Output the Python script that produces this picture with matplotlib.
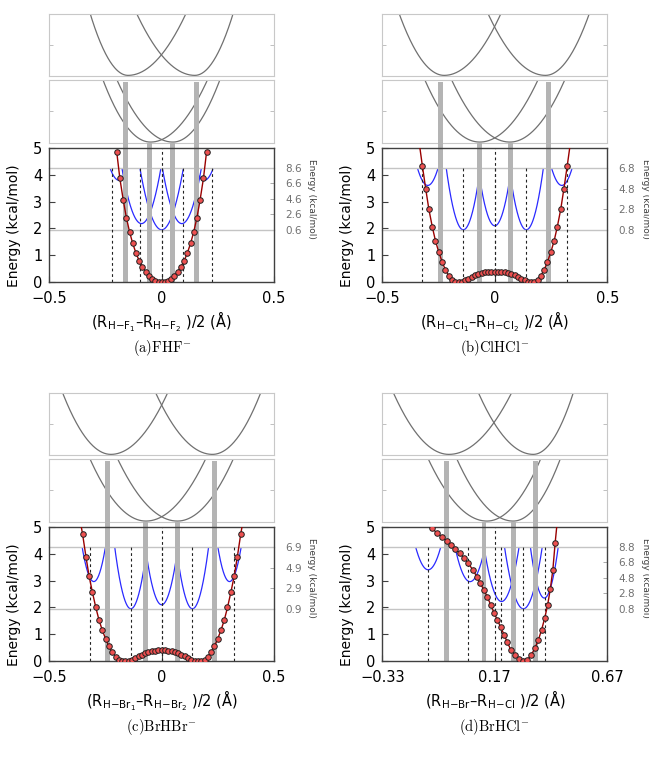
import numpy as np
import matplotlib.pyplot as plt
import matplotlib.transforms as mtransforms
from matplotlib.patches import Rectangle

W, H = 649, 757

# ---------------- values ----------------
# (a) FHF-   scan (left half, mirrored)
fhf_x = [-0.200, -0.186, -0.171, -0.157, -0.143, -0.129, -0.114, -0.100,
         -0.086, -0.071, -0.057, -0.043, -0.029, -0.014, 0.000]
fhf_y = [4.85, 3.86, 3.06, 2.40, 1.88, 1.45, 1.08, 0.80,
         0.58, 0.40, 0.25, 0.13, 0.06, 0.015, 0.0]
fhf_bars_outer = [-0.160, 0.157]
fhf_bars_inner = [-0.052, 0.048]
fhf_dotted = [-0.222, -0.096, 0.0, 0.096, 0.222]
fhf_blue_x0 = [-0.190, -0.090, 0.0, 0.090, 0.190]
fhf_blue_e0 = [7.0, 1.40, 0.6, 1.40, 7.0]
fhf_blue_hw = [0.040, 0.087, 0.097, 0.087, 0.040]
fhf_right_ticks = [8.6, 6.6, 4.6, 2.6, 0.6]
fhf_top_x0 = [-0.150, 0.148]
fhf_top_wl = [0.168, 0.259]
fhf_top_wr = [0.258, 0.170]
fhf_mid_x0 = [-0.050, 0.050]
fhf_mid_wl = [0.212, 0.250]
fhf_mid_wr = [0.255, 0.210]

# (b) ClHCl-
clhcl_x = [-0.322, -0.307, -0.293, -0.278, -0.264, -0.249, -0.234, -0.220,
           -0.205, -0.190, -0.176, -0.161, -0.146, -0.132, -0.117, -0.102,
           -0.088, -0.073, -0.059, -0.044, -0.029, -0.015, 0.000]
clhcl_y = [4.33, 3.47, 2.71, 2.07, 1.55, 1.12, 0.76, 0.47,
           0.25, 0.10, 0.02, 0.0, 0.02, 0.07, 0.14, 0.21,
           0.27, 0.31, 0.345, 0.365, 0.38, 0.385, 0.39]
clhcl_tail = (-0.338, 5.3)
clhcl_bars_outer = [-0.240, 0.238]
clhcl_bars_inner = [-0.070, 0.070]
clhcl_dotted = [-0.322, -0.140, 0.0, 0.140, 0.322]
clhcl_blue_x0 = [-0.298, -0.140, 0.0, 0.140, 0.298]
clhcl_blue_e0 = [5.1, 0.8, 1.19, 0.8, 5.1]
clhcl_blue_hw = [0.046, 0.076, 0.074, 0.076, 0.046]
clhcl_right_ticks = [6.8, 4.8, 2.8, 0.8]
clhcl_top_x0 = [-0.225, 0.225]
clhcl_top_wl = [0.200, 0.255]
clhcl_top_wr = [0.252, 0.195]
clhcl_mid_x0 = [-0.067, 0.067]
clhcl_mid_wl = [0.245, 0.260]
clhcl_mid_wr = [0.260, 0.245]

# (c) BrHBr-
brhbr_x = [-0.352, -0.337, -0.323, -0.308, -0.293, -0.279, -0.264, -0.249,
           -0.235, -0.220, -0.205, -0.191, -0.176, -0.161, -0.147, -0.132,
           -0.117, -0.103, -0.088, -0.073, -0.059, -0.044, -0.029, -0.015, 0.000]
brhbr_y = [4.73, 3.89, 3.17, 2.56, 2.00, 1.54, 1.15, 0.83,
           0.56, 0.34, 0.17, 0.06, 0.01, 0.0, 0.02, 0.06,
           0.12, 0.19, 0.25, 0.30, 0.345, 0.375, 0.395, 0.405, 0.41]
brhbr_tail = (-0.362, 5.2)
brhbr_bars_outer = [-0.242, 0.237]
brhbr_bars_inner = [-0.071, 0.070]
brhbr_dotted = [-0.321, -0.137, 0.0, 0.137, 0.321]
brhbr_blue_x0 = [-0.302, -0.137, 0.0, 0.137, 0.302]
brhbr_blue_e0 = [3.54, 0.9, 1.29, 0.9, 3.54]
brhbr_blue_hw = [0.052, 0.072, 0.073, 0.072, 0.052]
brhbr_right_ticks = [6.9, 4.9, 2.9, 0.9]
brhbr_top_x0 = [-0.226, 0.226]
brhbr_top_wl = [0.215, 0.253]
brhbr_top_wr = [0.253, 0.215]
brhbr_mid_x0 = [-0.070, 0.070]
brhbr_mid_wl = [0.250, 0.267]
brhbr_mid_wr = [0.267, 0.250]

# (d) BrHCl-  (asymmetric, full scan)
brhcl_x = [-0.110, -0.088, -0.066, -0.044, -0.026, -0.007, 0.015, 0.033,
           0.052, 0.072, 0.090, 0.104, 0.122, 0.137, 0.152, 0.166,
           0.181, 0.196, 0.211, 0.226, 0.241, 0.260, 0.279, 0.297,
           0.315, 0.333, 0.349, 0.364, 0.378, 0.392, 0.405, 0.417, 0.428, 0.438]
brhcl_y = [4.94, 4.78, 4.63, 4.48, 4.32, 4.16, 4.01, 3.83,
           3.64, 3.40, 3.15, 2.90, 2.66, 2.38, 2.10, 1.81,
           1.54, 1.27, 0.99, 0.70, 0.43, 0.25, 0.09, 0.0,
           0.06, 0.25, 0.50, 0.80, 1.17, 1.61, 2.10, 2.70, 3.40, 4.38]
brhcl_tail = (0.450, 5.4)
brhcl_bars_outer = [-0.044, 0.349]
brhcl_bars_inner = [0.122, 0.252]
brhcl_dotted = [-0.126, 0.052, 0.196, 0.297, 0.393]
brhcl_blue_x0 = [-0.126, 0.060, 0.200, 0.297, 0.390]
brhcl_blue_e0 = [5.84, 4.31, 1.74, 0.8, 2.19]
brhcl_blue_hw = [0.056, 0.067, 0.078, 0.084, 0.062]
brhcl_right_ticks = [8.8, 6.8, 4.8, 2.8, 0.8]
brhcl_top_x0 = [-0.034, 0.341]
brhcl_top_wl = [0.247, 0.244]
brhcl_top_wr = [0.279, 0.178]
brhcl_mid_x0 = [0.135, 0.252]
brhcl_mid_wl = [0.262, 0.252]
brhcl_mid_wr = [0.240, 0.210]


def mirror(xh, yh):
    x = list(xh) + [-v for v in reversed(xh[:-1])]
    y = list(yh) + list(reversed(yh[:-1]))
    return np.array(x), np.array(y)


fx, fy = mirror(fhf_x, fhf_y)
cx, cy = mirror(clhcl_x, clhcl_y)
bx, by = mirror(brhbr_x, brhbr_y)

panels = [
    dict(x=fx, y=fy, lx=fx, ly=fy, xlim=(-0.5, 0.5), xt=[-0.5, 0, 0.5],
         xtl=['\u22120.5', '0', '0.5'], mid=0.0,
         bo=fhf_bars_outer, bi=fhf_bars_inner, dot=fhf_dotted,
         bx0=fhf_blue_x0, be0=fhf_blue_e0, bhw=fhf_blue_hw, rt=fhf_right_ticks,
         tx0=fhf_top_x0, twl=fhf_top_wl, twr=fhf_top_wr,
         mx0=fhf_mid_x0, mwl=fhf_mid_wl, mwr=fhf_mid_wr,
         xlabel=r'(R$_{\mathrm{H\!-\!F_1}}$–R$_{\mathrm{H\!-\!F_2}}$ )/2 (Å)',
         title=r'$\mathrm{(a)FHF}^{-}$'),
    dict(x=cx, y=cy,
         lx=np.r_[clhcl_tail[0], cx, -clhcl_tail[0]], ly=np.r_[clhcl_tail[1], cy, clhcl_tail[1]],
         xlim=(-0.5, 0.5), xt=[-0.5, 0, 0.5], xtl=['\u22120.5', '0', '0.5'], mid=0.0,
         bo=clhcl_bars_outer, bi=clhcl_bars_inner, dot=clhcl_dotted,
         bx0=clhcl_blue_x0, be0=clhcl_blue_e0, bhw=clhcl_blue_hw, rt=clhcl_right_ticks,
         tx0=clhcl_top_x0, twl=clhcl_top_wl, twr=clhcl_top_wr,
         mx0=clhcl_mid_x0, mwl=clhcl_mid_wl, mwr=clhcl_mid_wr,
         xlabel=r'(R$_{\mathrm{H\!-\!Cl_1}}$–R$_{\mathrm{H\!-\!Cl_2}}$ )/2 (Å)',
         title=r'$\mathrm{(b)ClHCl}^{-}$'),
    dict(x=bx, y=by,
         lx=np.r_[brhbr_tail[0], bx, -brhbr_tail[0]], ly=np.r_[brhbr_tail[1], by, brhbr_tail[1]],
         xlim=(-0.5, 0.5), xt=[-0.5, 0, 0.5], xtl=['\u22120.5', '0', '0.5'], mid=0.0,
         bo=brhbr_bars_outer, bi=brhbr_bars_inner, dot=brhbr_dotted,
         bx0=brhbr_blue_x0, be0=brhbr_blue_e0, bhw=brhbr_blue_hw, rt=brhbr_right_ticks,
         tx0=brhbr_top_x0, twl=brhbr_top_wl, twr=brhbr_top_wr,
         mx0=brhbr_mid_x0, mwl=brhbr_mid_wl, mwr=brhbr_mid_wr,
         xlabel=r'(R$_{\mathrm{H\!-\!Br_1}}$–R$_{\mathrm{H\!-\!Br_2}}$ )/2 (Å)',
         title=r'$\mathrm{(c)BrHBr}^{-}$'),
    dict(x=np.array(brhcl_x), y=np.array(brhcl_y),
         lx=np.r_[brhcl_x, brhcl_tail[0]], ly=np.r_[brhcl_y, brhcl_tail[1]],
         xlim=(-0.33, 0.67), xt=[-0.33, 0.17, 0.67], xtl=['\u22120.33', '0.17', '0.67'], mid=0.17,
         bo=brhcl_bars_outer, bi=brhcl_bars_inner, dot=brhcl_dotted,
         bx0=brhcl_blue_x0, be0=brhcl_blue_e0, bhw=brhcl_blue_hw, rt=brhcl_right_ticks,
         tx0=brhcl_top_x0, twl=brhcl_top_wl, twr=brhcl_top_wr,
         mx0=brhcl_mid_x0, mwl=brhcl_mid_wl, mwr=brhcl_mid_wr,
         xlabel=r'(R$_{\mathrm{H\!-\!Br}}$–R$_{\mathrm{H\!-\!Cl}}$ )/2 (Å)',
         title=r'$\mathrm{(d)BrHCl}^{-}$'),
]

# ---------------- layout (pixels) ----------------
col_lr = [(49.3, 274.0), (382.3, 607.3)]
row_off = [0.0, 379.0]
top_tb = (14.3, 76.0)
mid_tb = (80.0, 142.7)
main_tb = (147.7, 282.3)
inset_lo, inset_hi = 1.95, 4.25      # inset frame in main energy units


def rect(l, t, r, b):
    return [l / W, 1 - b / H, (r - l) / W, (b - t) / H]


def box_curve(ax, xlim, x0, wl, wr):
    xs = np.linspace(xlim[0], xlim[1], 500)
    w = np.where(xs < x0, wl, wr)
    ax.plot(xs, 0.01 + ((xs - x0) / w) ** 2, color='#707070', lw=0.9)


def make_box(rc, xlim):
    ax = fig.add_axes(rc)
    ax.set_xlim(*xlim)
    ax.set_ylim(0, 1)
    ax.set_xticks([])
    ax.set_yticks([0.5])
    ax.tick_params(axis='y', direction='in', length=3, width=0.7, colors='#c0c0c0',
                   left=True, right=True, labelleft=False)
    for s in ax.spines.values():
        s.set_color('#c8c8c8')
        s.set_linewidth(0.8)
    return ax


fig = plt.figure(figsize=(W / 100, H / 100), dpi=100)

for i, p in enumerate(panels):
    l, r = col_lr[i % 2]
    off = row_off[i // 2]
    xlim = p['xlim']

    # two upper boxes
    axt = make_box(rect(l, top_tb[0] + off, r, top_tb[1] + off), xlim)
    for x0, wl, wr in zip(p['tx0'], p['twl'], p['twr']):
        box_curve(axt, xlim, x0, wl, wr)
    axm = make_box(rect(l, mid_tb[0] + off, r, mid_tb[1] + off), xlim)
    for x0, wl, wr in zip(p['mx0'], p['mwl'], p['mwr']):
        box_curve(axm, xlim, x0, wl, wr)

    # main axes
    mt, mb = main_tb[0] + off, main_tb[1] + off
    ax = fig.add_axes(rect(l, mt, r, mb))
    ax.set_zorder(3)
    ax.patch.set_visible(False)
    ax.set_xlim(*xlim)
    ax.set_ylim(0, 5)
    ax.set_xticks(p['xt'])
    ax.set_xticklabels(p['xtl'])
    ax.set_yticks(range(6))
    ax.set_yticklabels([str(v) for v in range(6)])
    ax.tick_params(direction='in', length=4, width=0.8, color='#404040',
                   labelsize=10.5, top=False, right=False)
    ax.tick_params(axis='y', pad=5)
    ax.tick_params(axis='x', pad=6)
    for s in ax.spines.values():
        s.set_color('#404040')
        s.set_linewidth(1.0)

    # grey bars reaching up into the middle box
    mh = mb - mt
    trans = mtransforms.blended_transform_factory(ax.transData, ax.transAxes)
    bw = 0.022
    h_outer = (mb - (mid_tb[0] + off) - 2) / mh
    h_inner = (mb - (mid_tb[1] + off)) / mh
    for xb in p['bo']:
        ax.add_patch(Rectangle((xb - bw / 2, 0), bw, h_outer, transform=trans,
                               clip_on=False, color='#b4b4b4', lw=0, zorder=1))
    for xb in p['bi']:
        ax.add_patch(Rectangle((xb - bw / 2, 0), bw, h_inner, transform=trans,
                               clip_on=False, color='#b4b4b4', lw=0, zorder=1))

    ax.vlines(p['dot'], 0, inset_hi, colors='#222222', lw=0.8,
              linestyles=(0, (2.5, 2.5)), zorder=2)
    ax.axvline(p['mid'], color='#222222', lw=0.8, ls=(0, (2.5, 2.5)), zorder=2)

    ax.plot(p['lx'], p['ly'], color='#990000', lw=1.0, zorder=4)
    ax.plot(p['x'], p['y'], 'o', ms=4, mfc='#ee5050', mec='#202020', mew=0.7, zorder=5)

    ax.set_ylabel('Energy (kcal/mol)', fontsize=10)
    ax.yaxis.set_label_coords(-0.125, 0.42)
    ax.text(0.5, -0.335, p['xlabel'], transform=ax.transAxes, ha='center',
            va='baseline', fontsize=10.5)
    ax.text(0.5, -0.49, p['title'], transform=ax.transAxes, ha='center',
            va='center', fontsize=10.5, math_fontfamily='cm')

    # inset with blue local potentials and grey right-hand scale
    rt = p['rt']
    elo, ehi = min(rt), max(rt)
    it = mb - inset_hi / 5 * mh
    ib = mb - inset_lo / 5 * mh
    axi = fig.add_axes(rect(l, it, r, ib))
    axi.set_zorder(2)
    axi.patch.set_visible(False)
    axi.set_xlim(*xlim)
    axi.set_ylim(elo, ehi)
    axi.set_xticks([])
    axi.yaxis.tick_right()
    axi.set_yticks(rt)
    axi.set_yticklabels(['%.1f' % v for v in rt])
    axi.tick_params(axis='y', direction='in', length=3, width=0.7, color='#aaaaaa',
                    labelcolor='#707070', labelsize=7.5, pad=8)
    axi.spines['left'].set_visible(False)
    axi.spines['right'].set_visible(False)
    for s in ('top', 'bottom'):
        axi.spines[s].set_color('#c4c4c4')
        axi.spines[s].set_linewidth(1.0)
    for x0, e0, hw in zip(p['bx0'], p['be0'], p['bhw']):
        xs = np.linspace(x0 - 1.05 * hw, x0 + 1.05 * hw, 200)
        axi.plot(xs, e0 + (ehi - e0) * ((xs - x0) / hw) ** 2, color='#2a2aff', lw=0.9)
    axi.text(1 + 38 / (r - l), 0.5, 'Energy (kcal/mol)', transform=axi.transAxes,
             rotation=270, ha='center', va='center', fontsize=6.5, color='#404040')

fig.savefig('out.png', dpi=100)
